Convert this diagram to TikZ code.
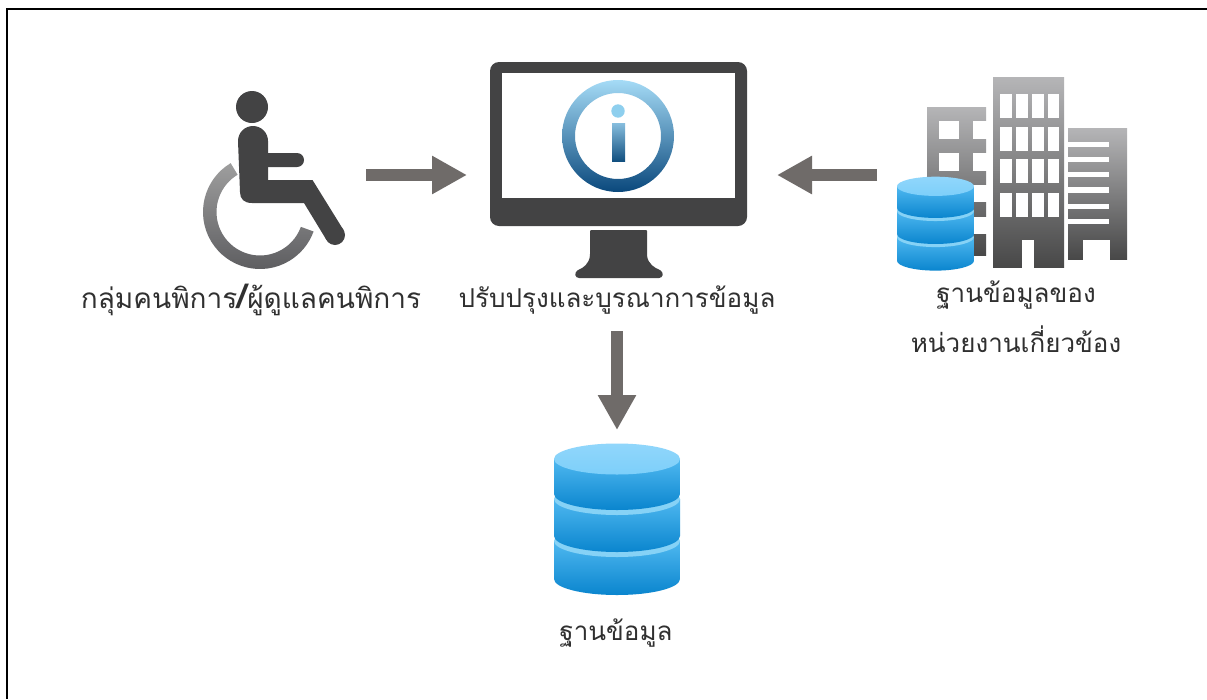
\documentclass[tikz,border=0pt]{standalone}
\usepackage{fontspec}
\usetikzlibrary{arrows.meta}
\newfontfamily\thaifont[Script=Thai]{Loma}
\definecolor{icondark}{HTML}{434344}
\definecolor{arrowgrey}{HTML}{6F6B69}
\definecolor{labelink}{HTML}{303030}
\definecolor{dbtop}{HTML}{7DCFFA}
\definecolor{dbstrip}{HTML}{86D2F6}
\definecolor{dbhigh}{HTML}{4FB8F0}
\definecolor{dblow}{HTML}{0A85CE}
\definecolor{ringtop}{HTML}{A5DBF6}
\definecolor{ringlow}{HTML}{0A487C}
\definecolor{infodot}{HTML}{8ECFEE}
\definecolor{bartop}{HTML}{87BEDE}
\definecolor{barlow}{HTML}{125080}
\definecolor{wheeltop}{HTML}{9E9E9E}
\definecolor{wheellow}{HTML}{59595C}
\definecolor{buildtop}{HTML}{B5B5B7}
\definecolor{buildlow}{HTML}{484848}
\tikzset{
  labeltext/.style={font=\thaifont\fontsize{26}{30}\selectfont,text=labelink,anchor=base,inner sep=0pt},
  blockarrow/.style={draw=arrowgrey,line width=12pt,-{Triangle[length=35pt,width=36pt]}},
  building/.style={top color=buildtop,bottom color=buildlow},
  hole/.style={fill=white},
  dblayer/.style={top color=dbhigh,bottom color=dblow},
}
\newcommand{\dbstack}{%
  \foreach \ya/\yb in {97/135,55/92}{%
    \shade[dblayer] (0,\ya) -- (0,\yb) arc[start angle=180,end angle=0,x radius=63,y radius=16] -- (126,\ya) -- cycle;
    \fill[dbstrip] (63,\ya) ellipse[x radius=63,y radius=16];
  }%
  \shade[dblayer] (0,15) -- (0,50) arc[start angle=180,end angle=0,x radius=63,y radius=16] -- (126,15) -- cycle;
  \shade[top color=dbtop!85!white,bottom color=dbtop] (63,15) ellipse[x radius=63,y radius=15.5];
}
\begin{document}
\begin{tikzpicture}[x=1pt,y=-1pt]
\useasboundingbox (0,0) rectangle (1207,699);
\fill[white] (0,0) rectangle (1207,699);
% frame: only top and left edges
\draw[line width=2pt] (1207,9) -- (7,9) -- (7,699);

% wheelchair
\shade[top color=wheeltop,bottom color=wheellow]
  (260,212) ++(239:57) arc[start angle=239,end angle=20,radius=57]
  -- ++(200:13.5) arc[start angle=20,end angle=239,radius=43.5] -- cycle;
\fill[icondark] (252,107) circle[radius=16];
\fill[icondark] (238,141) arc[start angle=180,end angle=360,radius=15]
  -- (268,180) -- (312.5,180) -- (343.5,230) -- (326.5,240) -- (304,203) -- (252,203)
  .. controls (244,203) and (240,199) .. (240,192) -- cycle;
\fill[icondark] (335,235) circle[radius=10];
\fill[icondark] (262,153) -- (297,153) arc[start angle=270,end angle=450,radius=7] -- (262,167) -- cycle;

% monitor
\fill[icondark,rounded corners=9pt] (490,62) rectangle (747,226);
\fill[white] (502,73) rectangle (735,198);
\fill[icondark,rounded corners=1pt] (590,230) -- (647,230) -- (647,255)
  .. controls (648,264) and (655,268) .. (660,270) .. controls (664,273) and (663,278) .. (658,278)
  -- (580,278) .. controls (575,278) and (574,273) .. (578,270) .. controls (583,268) and (589,264) .. (590,255) -- cycle;
\shade[top color=ringtop,bottom color=ringlow,even odd rule]
  (618,136) circle[radius=56] (618,136) circle[radius=43];
\fill[infodot] (618,111) circle[radius=6.7];
\shade[top color=bartop,bottom color=barlow] (612,123) rectangle (625,161);

% buildings
\shade[building] (927,107) rectangle (986,255);
\foreach \ya/\yb in {121/139,153/171}{\fill[hole] (939,\ya) rectangle (959,\yb);}
\foreach \ya/\yb in {121/139,153/171,185/202,217/234}{\fill[hole] (973,\ya) rectangle (987,\yb);}
\shade[building] (993,77) rectangle (1064,267);
\foreach \xa/\xb in {1000/1012,1016/1028,1032/1044,1048/1059}{
  \foreach \ya/\yb in {94/118,127/151,159/183,193/217}{\fill[hole] (\xa,\ya) rectangle (\xb,\yb);}
}
\fill[hole] (1022,240) rectangle (1034,268);
\shade[building] (1068,128) rectangle (1127,259);
\foreach \ya/\yb in {142/147,157/162,172/177,187/193,204/209,219/224}{\fill[hole] (1067,\ya) rectangle (1109,\yb);}
\fill[hole] (1083,240) rectangle (1110,260);

% databases
\begin{scope}[shift={(897,177)},xscale=.611,yscale=.62]\dbstack\end{scope}
\begin{scope}[shift={(554,444)}]\dbstack\end{scope}

% arrows
\coordinate (wheelchairEdge) at (366,175);
\coordinate (monitorWest) at (467,175);
\coordinate (monitorEast) at (777,175);
\coordinate (buildingsEdge) at (877,175);
\coordinate (monitorSouth) at (617,331);
\coordinate (databaseTop) at (617,430);
\draw[blockarrow] (wheelchairEdge) -- (monitorWest);
\draw[blockarrow] (buildingsEdge) -- (monitorEast);
\draw[blockarrow] (monitorSouth) -- (databaseTop);

% labels
\node[labeltext,font=\thaifont\fontsize{28}{32}\selectfont] (labelUsers) at (251,308) {กลุ่มคนพิการ{\bfseries\fontsize{34}{34}\selectfont /}ผู้ดูแลคนพิการ};
\node[labeltext] (labelMonitor) at (617,307) {ปรับปรุงและบูรณาการข้อมูล};
\node[labeltext] (labelAgencyA) at (1016,302) {ฐานข้อมูลของ};
\node[labeltext] (labelAgencyB) at (1016,352) {หน่วยงานเกี่ยวข้อง};
\node[labeltext] (labelDatabase) at (616,640) {ฐานข้อมูล};
\end{tikzpicture}
\end{document}
